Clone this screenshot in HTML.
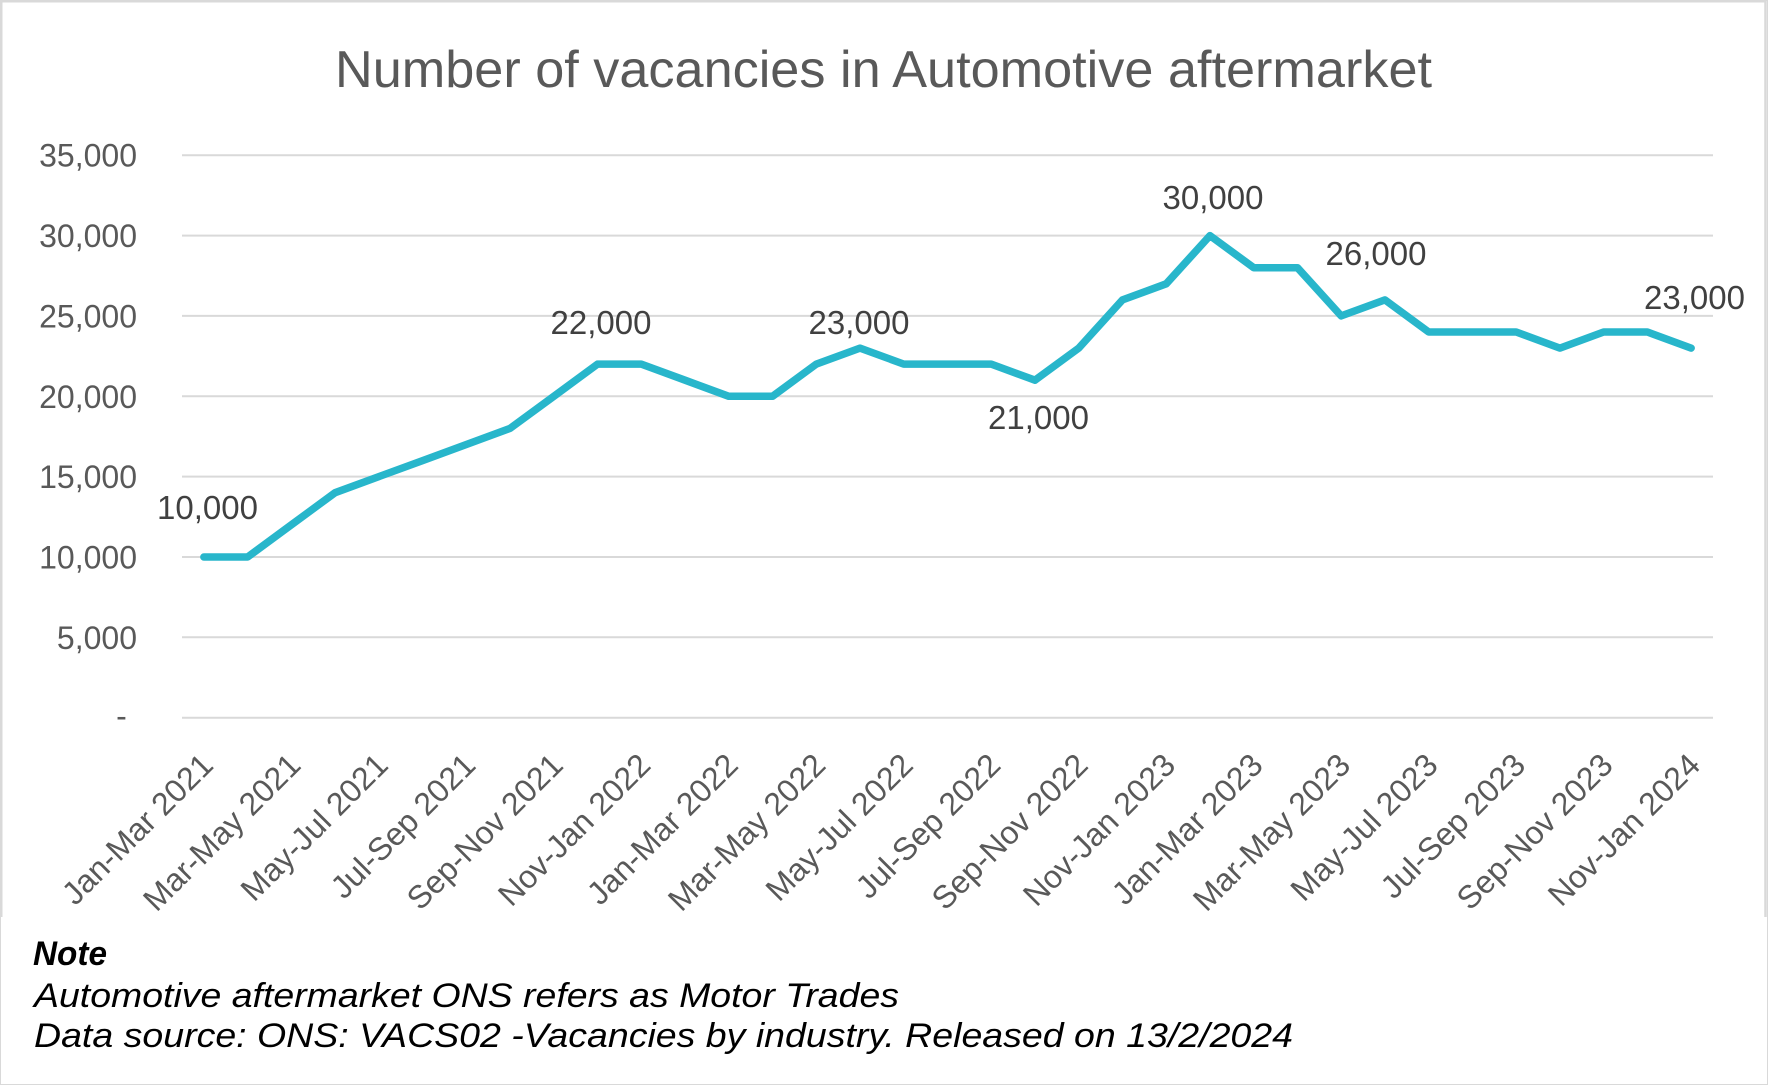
<!DOCTYPE html>
<html>
<head>
<meta charset="utf-8">
<style>
  html, body { margin:0; padding:0; background:#ffffff; }
  body { width:1768px; height:1085px; overflow:hidden; }
  svg { display:block; }
  text { font-family: "Liberation Sans", Arial, sans-serif; }
</style>
</head>
<body>
<svg width="1768" height="1085" viewBox="0 0 1768 1085" xmlns="http://www.w3.org/2000/svg">
  <rect x="0" y="0" width="1768" height="1085" fill="#ffffff"/>
  <!-- outer border -->
  <rect x="0.5" y="0.5" width="1767" height="1084" fill="none" stroke="#d9d9d9" stroke-width="1"/>
  <!-- chart frame -->
  <line x1="1" y1="1.5" x2="1766" y2="1.5" stroke="#d9d9d9" stroke-width="2"/>
  <line x1="1.5" y1="1" x2="1.5" y2="917" stroke="#d9d9d9" stroke-width="2"/>
  <line x1="1765.5" y1="1" x2="1765.5" y2="917" stroke="#d9d9d9" stroke-width="2.5"/>

  <!-- title -->
  <text x="335" y="87" font-size="52" fill="#595959" textLength="1097" lengthAdjust="spacingAndGlyphs">Number of vacancies in Automotive aftermarket</text>

  <!-- gridlines -->
  <g stroke="#d9d9d9" stroke-width="2">
    <line x1="182" y1="155.2" x2="1713" y2="155.2"/>
    <line x1="182" y1="235.6" x2="1713" y2="235.6"/>
    <line x1="182" y1="315.9" x2="1713" y2="315.9"/>
    <line x1="182" y1="396.3" x2="1713" y2="396.3"/>
    <line x1="182" y1="476.6" x2="1713" y2="476.6"/>
    <line x1="182" y1="557.0" x2="1713" y2="557.0"/>
    <line x1="182" y1="637.3" x2="1713" y2="637.3"/>
    <line x1="182" y1="717.7" x2="1713" y2="717.7"/>
  </g>

  <!-- y-axis labels -->
  <g font-size="32" fill="#595959" text-anchor="end">
    <text x="137" y="166.7">35,000</text>
    <text x="137" y="247.1">30,000</text>
    <text x="137" y="327.4">25,000</text>
    <text x="137" y="407.8">20,000</text>
    <text x="137" y="488.1">15,000</text>
    <text x="137" y="568.5">10,000</text>
    <text x="137" y="648.8">5,000</text>
    <text x="121.5" y="727" text-anchor="middle">-</text>
  </g>

  <!-- data line -->
  <polyline fill="none" stroke="#28B6CB" stroke-width="7.5" stroke-linejoin="round" stroke-linecap="round"
    points="203.87,557.0 247.61,557.0 291.36,524.8 335.10,492.7 378.84,476.6 422.59,460.6 466.33,444.5 510.07,428.4 553.82,396.3 597.56,364.1 641.30,364.1 685.04,380.2 728.79,396.3 772.53,396.3 816.27,364.1 860.02,348.1 903.76,364.1 947.50,364.1 991.25,364.1 1034.99,380.2 1078.73,348.1 1122.48,299.9 1166.22,283.8 1209.96,235.6 1253.71,267.7 1297.45,267.7 1341.19,315.9 1384.94,299.9 1428.68,332.0 1472.42,332.0 1516.17,332.0 1559.91,348.1 1603.65,332.0 1647.40,332.0 1691.14,348.1"/>

  <!-- data labels -->
  <g font-size="33" fill="#404040" text-anchor="middle">
    <text x="207.5" y="519">10,000</text>
    <text x="601" y="334">22,000</text>
    <text x="859" y="334">23,000</text>
    <text x="1038.5" y="429">21,000</text>
    <text x="1213" y="209">30,000</text>
    <text x="1376" y="265">26,000</text>
    <text x="1694.5" y="309">23,000</text>
  </g>

  <!-- x-axis labels -->
  <g font-size="32" fill="#595959" text-anchor="end">
    <text transform="translate(214.9,767) rotate(-45)">Jan-Mar 2021</text>
    <text transform="translate(302.4,767) rotate(-45)">Mar-May 2021</text>
    <text transform="translate(389.8,767) rotate(-45)">May-Jul 2021</text>
    <text transform="translate(477.3,767) rotate(-45)">Jul-Sep 2021</text>
    <text transform="translate(564.8,767) rotate(-45)">Sep-Nov 2021</text>
    <text transform="translate(652.3,767) rotate(-45)">Nov-Jan 2022</text>
    <text transform="translate(739.8,767) rotate(-45)">Jan-Mar 2022</text>
    <text transform="translate(827.3,767) rotate(-45)">Mar-May 2022</text>
    <text transform="translate(914.8,767) rotate(-45)">May-Jul 2022</text>
    <text transform="translate(1002.3,767) rotate(-45)">Jul-Sep 2022</text>
    <text transform="translate(1089.7,767) rotate(-45)">Sep-Nov 2022</text>
    <text transform="translate(1177.2,767) rotate(-45)">Nov-Jan 2023</text>
    <text transform="translate(1264.7,767) rotate(-45)">Jan-Mar 2023</text>
    <text transform="translate(1352.2,767) rotate(-45)">Mar-May 2023</text>
    <text transform="translate(1439.7,767) rotate(-45)">May-Jul 2023</text>
    <text transform="translate(1527.2,767) rotate(-45)">Jul-Sep 2023</text>
    <text transform="translate(1614.7,767) rotate(-45)">Sep-Nov 2023</text>
    <text transform="translate(1702.1,767) rotate(-45)">Nov-Jan 2024</text>
  </g>

  <!-- notes -->
  <text x="33" y="965" font-size="34" font-weight="bold" font-style="italic" fill="#000000" textLength="74" lengthAdjust="spacingAndGlyphs">Note</text>
  <text x="34" y="1007" font-size="34" font-style="italic" fill="#000000" textLength="865" lengthAdjust="spacingAndGlyphs">Automotive aftermarket ONS refers as Motor Trades</text>
  <text x="34" y="1047" font-size="34" font-style="italic" fill="#000000" textLength="1259" lengthAdjust="spacingAndGlyphs">Data source: ONS: VACS02 -Vacancies by industry. Released on 13/2/2024</text>
</svg>
</body>
</html>
